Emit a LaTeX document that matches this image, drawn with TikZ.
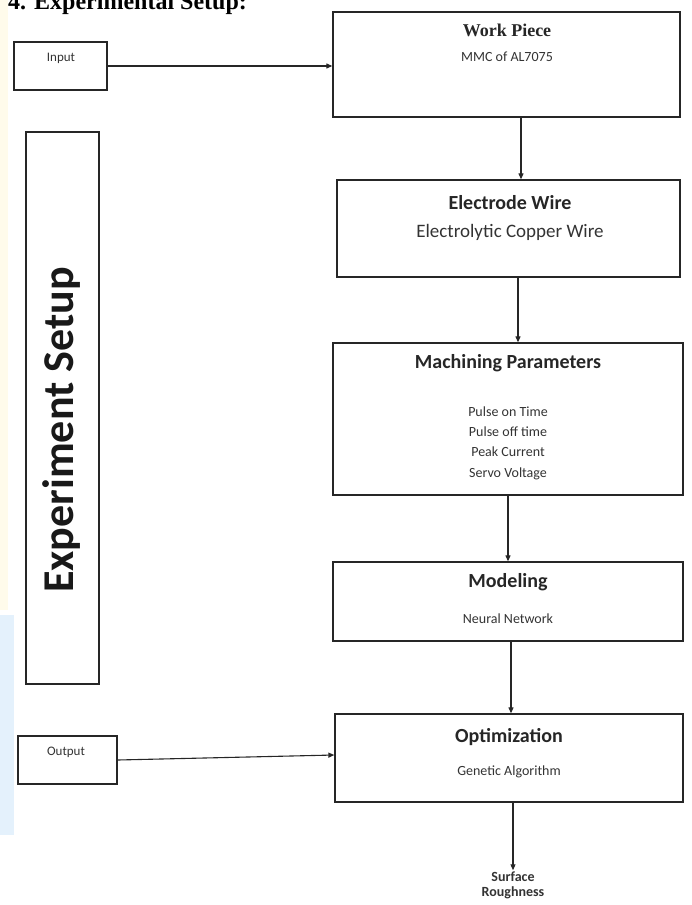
\documentclass[tikz,border=0pt]{standalone}
\usepackage{fontspec}
\setmainfont{Carlito}
\newfontfamily\timesfont{Liberation Serif}
\usetikzlibrary{arrows.meta,positioning}
\definecolor{tintY}{RGB}{255,251,235}
\definecolor{tintB}{RGB}{228,241,252}
\tikzset{
  >={Triangle[length=6pt,width=5pt]},
  blk/.style  ={rectangle, draw=black!85, line width=1.3pt, inner sep=0pt},
  ttl/.style  ={font=\bfseries\fontsize{20}{24}\selectfont, text=black!85, inner sep=1pt},
  sub/.style  ={font=\fontsize{14}{17}\selectfont, text=black!80, inner sep=1pt, align=center},
  con/.style  ={->, draw, line width=1.1pt, black!85},
}

\begin{document}
\begin{tikzpicture}[x=1pt,y=-1pt]
\useasboundingbox (0,0) rectangle (691,905);
% faint page tints
\fill[tintY] (0,0) rectangle (8,610);
\fill[tintB] (0,615) rectangle (14,835);
\node[anchor=base west, inner sep=0pt, font=\timesfont\bfseries\fontsize{24}{28}\selectfont] (head) at (8,9) {4. Experimental Setup:};
% left column
\node[blk, fill=white, minimum width=93, minimum height=48] (inp) at (60.5,66) {};
\node[sub, font=\fontsize{13}{16}\selectfont] (inpT) at (61,58) {Input};
\node[blk, fill=white, minimum width=73, minimum height=552] (exp) at (62.5,408) {};
\node[rotate=90, font=\bfseries\fontsize{44}{48}\selectfont, text=black!90] (expT) at (62,430) {Experiment Setup};
\node[blk, fill=white, minimum width=99, minimum height=48] (out) at (67.5,760) {};
\node[sub, font=\fontsize{13}{16}\selectfont] (outT) at (66,752) {Output};
% main chain
\node[blk, minimum width=347, minimum height=105] (wp) at (506.5,64.5) {};
\node[ttl, font=\timesfont\bfseries\fontsize{18}{22}\selectfont] (wpT) at (507,30) {Work Piece};
\node[sub] (wpS) at (507,57) {MMC of AL7075};
\node[blk, minimum width=343, minimum height=97] (el) at (508.5,228.5) {};
\node[ttl] (elT) at (510,203) {Electrode Wire};
\node[sub, font=\fontsize{19}{22}\selectfont] (elS) at (510,232) {Electrolytic Copper Wire};
\node[blk, minimum width=350, minimum height=152] (mp) at (508,419) {};
\node[ttl] (mpT) at (508,363) {Machining Parameters};
\node[sub, font=\fontsize{14}{20.3}\selectfont] (mpS) at (508,443) {Pulse on Time\\Pulse off time\\Peak Current\\Servo Voltage};
\node[blk, minimum width=350, minimum height=79] (md) at (508,601.5) {};
\node[ttl] (mdT) at (508,582) {Modeling};
\node[sub] (mdS) at (508,619) {Neural Network};
\node[blk, minimum width=348, minimum height=88] (opt) at (509,758) {};
\node[ttl] (optT) at (509,737) {Optimization};
\node[sub] (optS) at (509,772) {Genetic Algorithm};
\node[sub, font=\bfseries\fontsize{14}{15}\selectfont] (srf) at (513,885) {Surface\\Roughness};
% arrows
\draw[con] (inp.east) -- (inp.east -| wp.west);
\draw[con] ([xshift=14.5]wp.south) -- ([xshift=14.5]wp.south |- el.north);
\draw[con] ([xshift=9.5]el.south) -- ([xshift=9.5]el.south |- mp.north);
\draw[con] (mp.south) -- (md.north);
\draw[con] ([xshift=3]md.south) -- ([xshift=3]md.south |- opt.north);
\draw[con] ([xshift=4]opt.south) -- (srf.north);
\draw[con] (out.east) -- ([yshift=3]opt.west);
\end{tikzpicture}
\end{document}
